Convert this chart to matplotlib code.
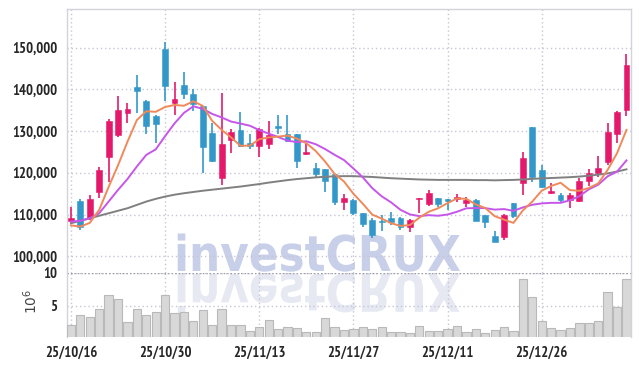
import matplotlib
matplotlib.use("Agg")
import matplotlib.pyplot as plt
import numpy as np
from matplotlib import font_manager
from matplotlib.textpath import TextPath
from matplotlib.patches import PathPatch
from matplotlib.font_manager import FontProperties
from matplotlib.transforms import Affine2D, IdentityTransform
from matplotlib.ticker import FuncFormatter

# ---------------- data ----------------
tick_pos = [0, 10, 20, 30, 40, 50]
tick_labels = ["25/10/16", "25/10/30", "25/11/13", "25/11/27", "25/12/11", "25/12/26"]

opens = [108450, 113250, 109250, 115400, 123900, 129100, 134400, 140600, 137200, 133600,
         149700, 136800, 141050, 138800, 135900, 129500, 118800, 127900, 130300, 127100,
         126500, 126800, 131300, 129300, 129300, 124600, 121200, 120900, 119700, 112900,
         113500, 110300, 108700, 108450, 109200, 109200, 106900, 113650, 112450, 113900,
         113700, 113700, 112700, 113500, 109900, 104850, 104500, 112700, 117500, 130900,
         120700, 115150, 114700, 113500, 113300, 118100, 119900, 122700, 129400, 135100]
highs = [111900, 113700, 114600, 121300, 132800, 138300, 136700, 143450, 137500, 133900,
         151400, 141700, 144200, 140000, 136000, 131900, 139100, 130400, 134500, 129300,
         130700, 132500, 133900, 133900, 129400, 127200, 122300, 121000, 119800, 114800,
         113600, 110400, 109100, 109900, 110700, 109300, 108900, 114000, 115900, 114000,
         113800, 114800, 114300, 113600, 110000, 106000, 110100, 112800, 125100, 131000,
         121900, 117600, 115200, 115250, 118700, 120850, 124100, 131900, 134750, 148400]
lows = [107950, 106400, 108700, 114000, 117900, 128500, 131900, 134400, 129200, 127200,
        137300, 133900, 137600, 134900, 119900, 122700, 117100, 124700, 126300, 125600,
        123900, 125700, 129300, 127500, 121100, 124200, 119100, 115500, 112300, 111100,
        110000, 107100, 104300, 106000, 107500, 106300, 105900, 110300, 112100, 111900,
        111100, 113100, 111700, 108400, 106700, 103400, 103800, 109100, 114700, 117900,
        116300, 115000, 113100, 111500, 112900, 116900, 118900, 121900, 127100, 133700]
closes = [109100, 107100, 113650, 120700, 132400, 135100, 135300, 139700, 131300, 131700,
          140900, 137700, 138800, 136600, 126300, 122900, 126900, 129800, 126500, 126500,
          130500, 129100, 130800, 127700, 122900, 125000, 119700, 118100, 112900, 113900,
          110300, 107700, 105100, 108150, 108300, 107100, 108700, 113950, 115250, 112500,
          113250, 114300, 113500, 108500, 108300, 103500, 110000, 109650, 123500, 118900,
          116500, 115650, 113500, 114700, 118000, 119900, 121150, 129800, 134650, 145850]
# volume in millions
volume = [2.1, 3.6, 3.3, 4.5, 6.6, 6.0, 2.55, 4.5, 3.6, 4.05,
          6.6, 3.9, 4.05, 2.7, 4.35, 2.1, 4.5, 2.0, 2.1, 1.05,
          1.65, 2.85, 1.35, 1.8, 1.5, 0.9, 0.9, 3.15, 1.8, 1.2,
          1.35, 1.8, 1.35, 1.65, 0.9, 0.9, 0.75, 1.9, 1.15, 1.15,
          1.35, 1.9, 0.9, 1.35, 0.75, 1.2, 1.8, 1.05, 9.0, 6.3,
          2.65, 1.6, 1.2, 1.5, 2.4, 2.3, 2.7, 7.0, 4.8, 9.1]
ma5 = [107400, 107100, 108000, 111100, 116590, 121790, 127430, 132640, 134760, 134620,
       135780, 136260, 136080, 137140, 136060, 132460, 130300, 128500, 126480, 126520,
       128040, 128480, 128680, 128920, 128200, 127100, 125220, 122680, 119720, 117920,
       114980, 112580, 109980, 109030, 107910, 107270, 107470, 109240, 110660, 111500,
       112730, 113850, 113760, 112410, 111570, 109620, 108760, 107990, 110990, 113110,
       115710, 116840, 117610, 115850, 115670, 116350, 117450, 120710, 124700, 130270]
ma10 = [108300, 108500, 109100, 110300, 113100, 115900, 118500, 121500, 124300, 125605,
        128785, 131845, 134360, 135950, 135340, 134120, 133280, 132290, 131810, 131290,
        130250, 129390, 128590, 127700, 127360, 127570, 126850, 125680, 124320, 123060,
        121040, 118900, 116330, 114375, 112915, 111125, 110025, 109610, 109845, 109705,
        110000, 110660, 111500, 111535, 111535, 111175, 111305, 110875, 111700, 112340,
        112665, 112800, 112800, 113420, 114390, 116030, 117145, 119160, 120275, 122970]
ma60 = [107900, 108500, 109100, 109700, 110300, 110900, 111500, 112300, 113100, 113750,
        114300, 114750, 115100, 115400, 115700, 115950, 116200, 116450, 116700, 117000,
        117300, 117650, 117950, 118250, 118500, 118700, 118900, 119050, 119150, 119200,
        119200, 119100, 119000, 118850, 118700, 118600, 118500, 118400, 118350, 118300,
        118300, 118300, 118300, 118250, 118250, 118200, 118250, 118300, 118400, 118550,
        118650, 118750, 118850, 118950, 119100, 119300, 119550, 119850, 120300, 120830]

# ---------------- style ----------------
UP, DOWN = "#e5196b", "#3398c9"
GRID = "#c6c6d6"
SPINE = "#d3d3dc"


def pick_narrow_bold():
    best = None
    for f in font_manager.fontManager.ttflist:
        nm = f.name.lower()
        narrow = ("narrow" in nm or "condensed" in nm or
                  str(f.stretch) in ("condensed", "semi-condensed", "extra-condensed",
                                     "ultra-condensed"))
        w = f.weight if isinstance(f.weight, int) else (700 if "bold" in str(f.weight) else 400)
        if narrow and w >= 600 and "cjk" not in nm and "mono" not in nm:
            score = (0 if "liberation" in nm else 1, 0 if "narrow" in nm else 1)
            if best is None or score < best[0]:
                best = (score, f.fname)
    return best[1] if best else None


nfile = pick_narrow_bold()
if nfile:
    TICK_FP = FontProperties(fname=nfile, size=10.5)
else:
    TICK_FP = FontProperties(family=["Roboto", "DejaVu Sans"], weight="bold", size=9.5)

W, H = 639, 366
fig = plt.figure(figsize=(W / 100, H / 100), dpi=100, facecolor="white")
L, R = 66.7, 630.7
T, M, B = 9.3, 272.7, 337.0
ax = fig.add_axes([L / W, (H - M) / H, (R - L) / W, (M - T) / H])
axv = fig.add_axes([L / W, (H - B) / H, (R - L) / W, (B - M) / H], sharex=ax)
for a in (ax, axv):
    a.set_facecolor("none")

# ---------------- watermark ----------------
fp = FontProperties(family="DejaVu Sans", weight="bold")
tp = TextPath((0, 0), "investCRUX", prop=fp, size=100)
ext = tp.get_extents()
x0, x1 = 177.7, 460.0
base = H - 271.0
top = H - 233.5
sx = (x1 - x0) / ext.width
sy = (top - base) / (ext.y1 - 0)
tr_up = Affine2D().translate(-ext.x0, 0).scale(sx, sy).translate(x0, base)
tr_dn = Affine2D().translate(-ext.x0, 0).scale(sx, -sy * 1.05).translate(x0, base - 3)
fig.patches.append(PathPatch(tp, transform=tr_dn + IdentityTransform(),
                             facecolor="#e6e8f2", edgecolor="none", zorder=-2))
fig.patches.append(PathPatch(tp, transform=tr_up + IdentityTransform(),
                             facecolor="#c8cfe8", edgecolor="none", zorder=-2))

# ---------------- price panel ----------------
x = np.arange(len(closes))
o = np.array(opens, float)
c = np.array(closes, float)
hi = np.array(highs, float)
lo = np.array(lows, float)
cols = [UP if cc >= oo else DOWN for oo, cc in zip(o, c)]
bottom = np.minimum(o, c)
height = np.maximum(np.abs(c - o), 250)

ax.vlines(x, lo, hi, colors=cols, lw=1.2, zorder=3)
ax.bar(x, height, bottom=bottom, width=0.62, color=cols, edgecolor=cols, lw=0.4, zorder=4)
ax.plot(x, ma60, color="#808080", lw=1.4, zorder=5)
ax.plot(x, ma10, color="#c656ea", lw=1.4, zorder=5)
ax.plot(x, ma5, color="#f0895a", lw=1.4, zorder=5)

ax.set_xlim(-0.45, 59.45)
ax.set_ylim(96050, 159200)
ax.set_yticks([100000, 110000, 120000, 130000, 140000, 150000])
ax.yaxis.set_major_formatter(FuncFormatter(lambda v, p: f"{int(v):,}"))
ax.set_xticks(tick_pos)
ax.grid(True, linestyle=(0, (1, 2)), color=GRID, lw=1.0)
ax.set_axisbelow(True)
ax.tick_params(axis="both", length=0, labelbottom=False, pad=6.5,
               labelcolor="#262626")
for lab in ax.get_yticklabels():
    lab.set_fontproperties(TICK_FP)
for s in ("left", "top", "right"):
    ax.spines[s].set_color(SPINE)
    ax.spines[s].set_linewidth(1.0)
ax.spines["bottom"].set_visible(False)

# ---------------- volume panel ----------------
axv.bar(x, volume, width=0.88, color="#d8d8d8", edgecolor="#b9b9b9", lw=0.8, zorder=3)
axv.set_ylim(0.2, 10)
axv.set_yticks([5, 10])
axv.set_yticklabels(["5", "10"])
axv.set_xticks(tick_pos)
axv.set_xticklabels(tick_labels)
axv.grid(True, linestyle=(0, (1, 2)), color=GRID, lw=1.0)
axv.set_axisbelow(True)
axv.axhline(10, color="#9a9aa8", lw=1.0, linestyle=(0, (1, 1.5)), zorder=2)
axv.tick_params(axis="both", length=0, labelcolor="#262626")
axv.tick_params(axis="y", pad=6.5)
axv.tick_params(axis="x", pad=6)
for lab in axv.get_yticklabels() + axv.get_xticklabels():
    lab.set_fontproperties(TICK_FP)
axv.set_ylabel("$10^6$", fontsize=10, color="#444444", rotation=90)
axv.yaxis.set_label_coords(-0.047, 0.55)
for s in ("left", "right"):
    axv.spines[s].set_color(SPINE)
    axv.spines[s].set_linewidth(1.0)
axv.spines["top"].set_visible(False)
axv.spines["bottom"].set_visible(False)

fig.savefig("out.png", dpi=100, facecolor="white")
